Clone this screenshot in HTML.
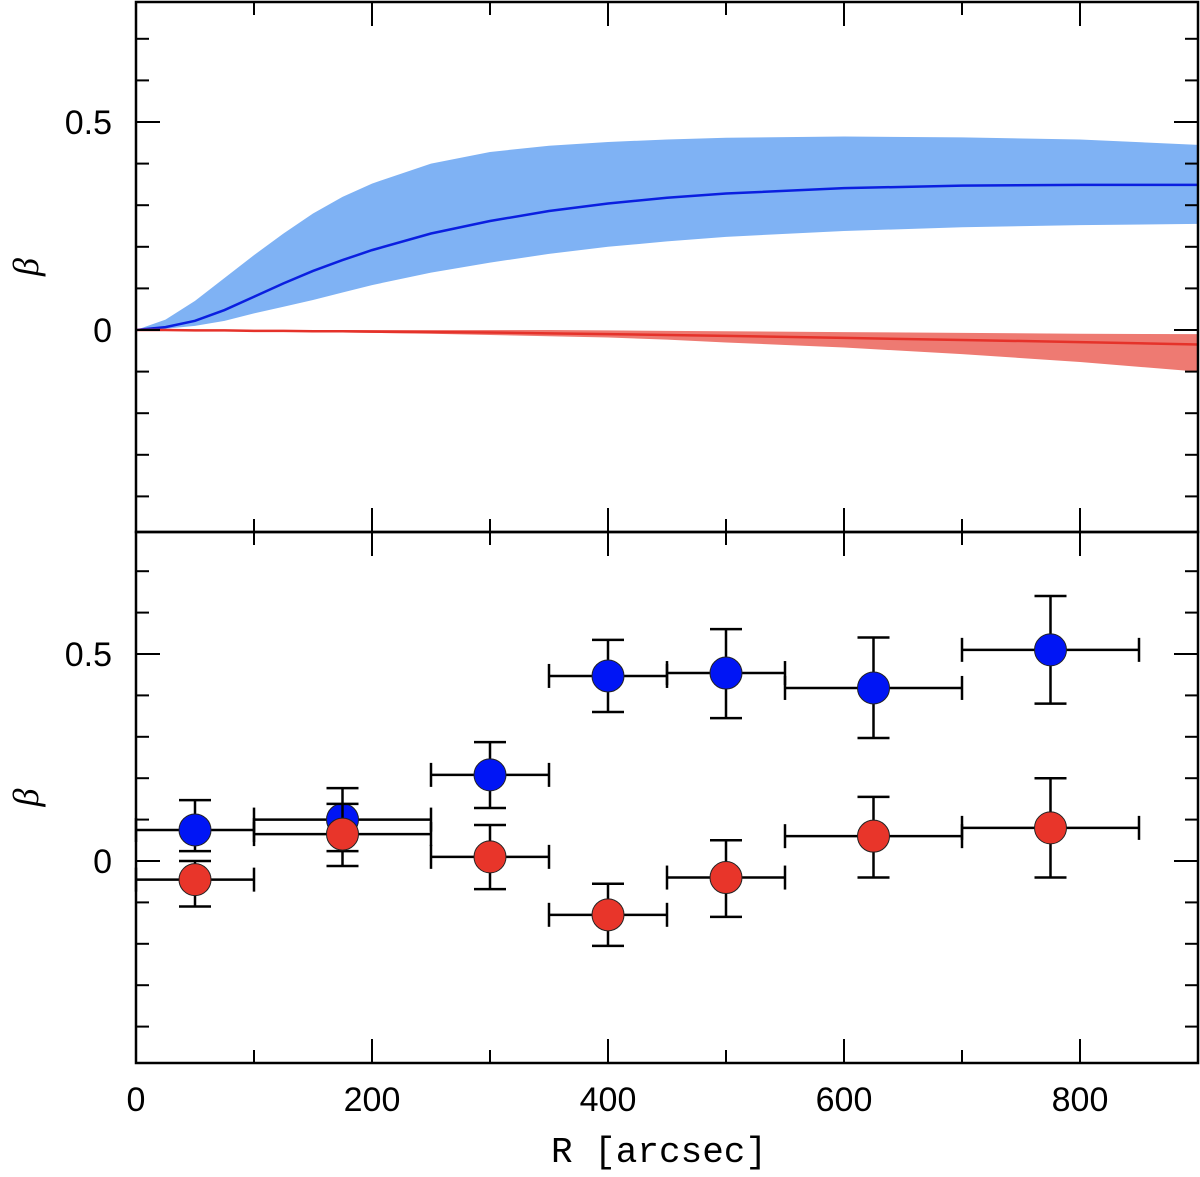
<!DOCTYPE html>
<html><head><meta charset="utf-8"><style>
body{margin:0;background:#fff}
</style></head><body>
<svg id="chart" width="1200" height="1172" xmlns="http://www.w3.org/2000/svg" style="font-family:'Liberation Sans',sans-serif">
<g id="topPanel"></g>
<g id="botPanel"></g>
</svg>
<script>
// ---- data ----
const curveR = [0,25,50,75,100,125,150,175,200,250,300,350,400,450,500,600,700,800,900];
const blueLine = [0,0.007,0.022,0.048,0.08,0.112,0.142,0.168,0.192,0.232,0.262,0.286,0.304,0.318,0.328,0.341,0.347,0.349,0.349];
const blueUpper = [0,0.025,0.07,0.125,0.18,0.232,0.28,0.32,0.352,0.4,0.428,0.443,0.452,0.458,0.462,0.465,0.463,0.458,0.445];
const blueLower = [0,0.003,0.01,0.022,0.04,0.056,0.072,0.09,0.108,0.138,0.162,0.183,0.2,0.213,0.224,0.238,0.247,0.252,0.255];
const redLine = [0,0,-0.001,-0.001,-0.002,-0.002,-0.003,-0.003,-0.004,-0.005,-0.006,-0.008,-0.01,-0.012,-0.014,-0.019,-0.024,-0.029,-0.035];
const redUpper = [0,0,0,0,0,0,0,0,0,0,0,0,-0.001,-0.002,-0.003,-0.005,-0.007,-0.009,-0.01];
const redLower = [0,0,-0.001,-0.002,-0.003,-0.004,-0.005,-0.006,-0.007,-0.009,-0.012,-0.015,-0.018,-0.023,-0.03,-0.042,-0.058,-0.077,-0.1];

const binR = [50,175,300,400,500,625,775];
const binLo = [0,100,250,350,450,550,700];
const binHi = [100,250,350,450,550,700,850];
const blueBeta = [0.075,0.10,0.208,0.447,0.454,0.418,0.51];
const blueErrHi = [0.147,0.176,0.287,0.534,0.56,0.54,0.64];
const blueErrLo = [0.024,0.024,0.128,0.36,0.345,0.297,0.38];
const redBeta = [-0.045,0.065,0.01,-0.13,-0.04,0.06,0.08];
const redErrHi = [0.0,0.138,0.087,-0.055,0.05,0.155,0.2];
const redErrLo = [-0.11,-0.012,-0.068,-0.205,-0.135,-0.04,-0.04];

const xTicks = [0,200,400,600,800];
const yTicks = [0,0.5];

// ---- layout ----
const NS="http://www.w3.org/2000/svg";
const X0=136,X1=1198;
const xs=v=>X0+(v/900)*(X1-X0);
const topY=v=>330-v*416;
const botY=v=>861-v*414;
function mk(tag,attrs,parent){const e=document.createElementNS(NS,tag);for(const k in attrs)e.setAttribute(k,attrs[k]);parent.appendChild(e);return e;}
const topG=document.getElementById('topPanel'),botG=document.getElementById('botPanel');

function axes(g,ys,yTop,yBot,showX){
  const frame=mk('rect',{x:X0,y:yTop,width:X1-X0,height:yBot-yTop,fill:'none',stroke:'#000','stroke-width':2.5},g);
  
  
  for(let k=-4;k<=7;k++){
    const r=k/10;const y=ys(r);if(y<yTop||y>yBot)continue;
    const L=(k%5===0)?24:13;
    mk('line',{x1:X0,x2:X0+L,y1:y,y2:y,stroke:'#000','stroke-width':2},g);
    mk('line',{x1:X1,x2:X1-L,y1:y,y2:y,stroke:'#000','stroke-width':2},g);
  }
  for(let v=100;v<900;v+=100){
    const L=(v%200===0)?24:13;const x=xs(v);
    mk('line',{x1:x,x2:x,y1:yTop,y2:yTop+L,stroke:'#000','stroke-width':2},g);
    mk('line',{x1:x,x2:x,y1:yBot,y2:yBot-L,stroke:'#000','stroke-width':2},g);
  }
  yTicks.forEach(t=>{
    const tx=mk('text',{x:112,y:ys(t)+12,'text-anchor':'end','font-size':34},g);
    tx.textContent=t===0?'0':'0.5';
    
    
  });
  const cy=(yTop+yBot)/2;
  const yl=mk('text',{x:38,y:cy,'font-size':36,'font-style':'italic','text-anchor':'middle',transform:`rotate(-90 38 ${cy})`,style:"font-family:'Liberation Serif',serif"},g);
  yl.textContent='β';
  
  
  if(showX){
    xTicks.forEach(t=>{
      const tx=mk('text',{x:xs(t),y:yBot+48,'text-anchor':'middle','font-size':34},g);
      tx.textContent=t;
      
      
    });
    const xl=mk('text',{x:xs(450)-8,y:1162,'text-anchor':'middle','font-size':36,style:"font-family:'Liberation Mono',monospace"},g);
    xl.textContent='R [arcsec]';
    
    
  }
}

function band(up,lo,fill,name){
  let d='M'+curveR.map((r,i)=>xs(r)+','+topY(up[i])).join('L');
  for(let i=curveR.length-1;i>=0;i--)d+='L'+xs(curveR[i])+','+topY(lo[i]);
  const p=mk('path',{d:d+'Z',fill:fill,stroke:'none'},topG);
  
  
}
function line(vals,col,name){
  const p=mk('polyline',{points:curveR.map((r,i)=>xs(r)+','+topY(vals[i])).join(' '),fill:'none',stroke:col,'stroke-width':2.5},topG);
  
  
}
band(blueUpper,blueLower,'#7fb2f4','blue-uncertainty-band');
band(redUpper,redLower,'#ee7a72','red-uncertainty-band');
line(blueLine,'#0a1fe0','blue-model-line');
line(redLine,'#e5322a','red-model-line');
axes(topG,topY,2,532,false);

function points(beta,hi,lo,col,name){
  binR.forEach((r,i)=>{
    const g=mk('g',{},botG);
    
    
    const y=botY(beta[i]),x=xs(r),x1=xs(binLo[i]),x2=xs(binHi[i]);
    const s={stroke:'#000','stroke-width':2.5};
    mk('line',Object.assign({x1:x1,x2:x2,y1:y,y2:y},s),g);
    mk('line',Object.assign({x1:x1,x2:x1,y1:y-12,y2:y+12},s),g);
    mk('line',Object.assign({x1:x2,x2:x2,y1:y-12,y2:y+12},s),g);
    mk('line',Object.assign({x1:x,x2:x,y1:botY(hi[i]),y2:botY(lo[i])},s),g);
    mk('line',Object.assign({x1:x-16,x2:x+16,y1:botY(hi[i]),y2:botY(hi[i])},s),g);
    mk('line',Object.assign({x1:x-16,x2:x+16,y1:botY(lo[i]),y2:botY(lo[i])},s),g);
    mk('circle',{cx:x,cy:y,r:16,fill:col,stroke:'#222','stroke-width':1},g);
  });
}
points(blueBeta,blueErrHi,blueErrLo,'#0015f5','blue-data-point');
points(redBeta,redErrHi,redErrLo,'#e8352a','red-data-point');
axes(botG,botY,532,1063,true);
</script>
</body></html>
